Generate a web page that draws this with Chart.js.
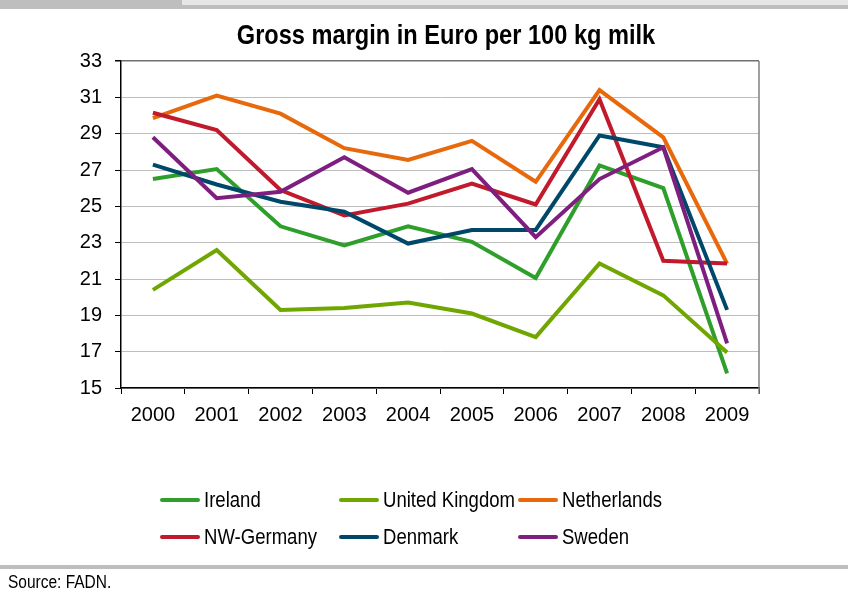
<!DOCTYPE html>
<html>
<head>
<meta charset="utf-8">
<script src="https://cdn.jsdelivr.net/npm/chart.js@4.4.1/dist/chart.umd.min.js"></script>
<style>
    body { margin: 0; background: #fff; font-family: "Liberation Sans", Arial, sans-serif; }
    #wrap { position: relative; width: 848px; height: 595px; overflow: hidden; }
    #topbar { position: absolute; left: 0; top: 0; width: 848px; height: 9px; background: #bebebe; }
    #topbar .light { position: absolute; left: 182px; top: 0; right: 0; height: 5px; background: #e6e6e6; }
    #myChart { position: absolute; left: 0; top: 0; }
    #title { position: absolute; left: 446px; top: 21px; font-size: 28px; line-height: 28px; font-weight: bold; white-space: nowrap; transform: translateX(-50%) scaleX(0.843); color: #000; }
    #legend { position: absolute; left: 160px; top: 486px; display: grid; grid-template-columns: 179px 179px 179px; row-gap: 9px; }
    .item { display: flex; align-items: center; height: 28px; font-size: 22px; color: #000; white-space: nowrap; }
    .item .ln { flex: none; width: 40px; height: 4px; border-radius: 2px; margin-right: 4px; }
    .item .tx { display: inline-block; transform: scaleX(0.843); transform-origin: left center; }
    #srcbar { position: absolute; left: 0; top: 565px; width: 848px; height: 4px; background: #bebebe; }
    #source { position: absolute; left: 8px; top: 572px; font-size: 18px; color: #000; transform: scaleX(0.86); transform-origin: left center; }
</style>
</head>
<body>
<div id="wrap">
    <div id="topbar"><div class="light"></div></div>
    <canvas id="myChart" width="848" height="595"></canvas>
    <div id="title">Gross margin in Euro per 100 kg milk</div>
    <div id="legend"></div>
    <div id="srcbar"></div>
    <div id="source">Source: FADN.</div>
</div>
<script>
const years = ['2000', '2001', '2002', '2003', '2004', '2005', '2006', '2007', '2008', '2009'];

const ireland = [26.5, 27.05, 23.9, 22.85, 23.9, 23.05, 21.05, 27.25, 26.0, 15.8];
const unitedKingdom = [20.4, 22.6, 19.3, 19.4, 19.7, 19.1, 17.8, 21.85, 20.1, 16.95];
const netherlands = [29.85, 31.1, 30.1, 28.2, 27.55, 28.6, 26.35, 31.4, 28.8, 21.85];
const nwGermany = [30.15, 29.2, 25.9, 24.5, 25.15, 26.25, 25.1, 30.9, 22.0, 21.85];
const denmark = [27.3, 26.2, 25.25, 24.7, 22.95, 23.7, 23.7, 28.9, 28.25, 19.3];
const sweden = [28.8, 25.45, 25.8, 27.7, 25.75, 27.05, 23.3, 26.5, 28.25, 17.45];

const seriesNames = ['Ireland', 'United Kingdom', 'Netherlands', 'NW-Germany', 'Denmark', 'Sweden'];
const seriesColors = ['#2e9f2a', '#6fa600', '#e8690b', '#c01a2c', '#00486a', '#7e1f80'];
const seriesData = [ireland, unitedKingdom, netherlands, nwGermany, denmark, sweden];

const fontFamily = '"Liberation Sans", Arial, sans-serif';

// right border of the plot
const rightBorder = {
    id: 'rightBorder',
    afterDraw(chart) {
        const a = chart.chartArea;
        const c = chart.ctx;
        c.save();
        c.strokeStyle = '#808080';
        c.lineWidth = 1.5;
        c.beginPath();
        c.moveTo(a.right, a.top);
        c.lineTo(a.right, a.bottom + 6);
        c.stroke();
        c.restore();
    }
};

let datasets = [];
for (let i = 0; i < seriesNames.length; i++) {
    datasets.push({
        label: seriesNames[i],
        data: seriesData[i],
        borderColor: seriesColors[i],
        backgroundColor: seriesColors[i],
        borderWidth: 4,
        pointRadius: 0,
        tension: 0,
        fill: false,
        order: seriesNames.length - i
    });
}

let ctx = document.getElementById('myChart').getContext('2d');
const myChart = new Chart(ctx, {
    type: 'line',
    data: {
        labels: years,
        datasets: datasets
    },
    options: {
        responsive: false,
        animation: false,
        layout: {
            padding: { left: 61, right: 89, top: 61, bottom: 167 }
        },
        plugins: {
            legend: { display: false },
            tooltip: { enabled: false },
            title: { display: false }
        },
        scales: {
            x: {
                offset: true,
                grid: {
                    offset: true,
                    drawOnChartArea: false,
                    tickLength: 6,
                    tickColor: '#000'
                },
                border: { color: '#000', width: 1.5 },
                ticks: {
                    color: '#000',
                    padding: 9,
                    font: { family: fontFamily, size: 20 }
                },
                afterFit: function(s) { s.height = 40; }
            },
            y: {
                min: 15,
                max: 33,
                ticks: {
                    stepSize: 2,
                    color: '#000',
                    padding: 13,
                    font: { family: fontFamily, size: 20 }
                },
                grid: {
                    color: c => c.tick && c.tick.value === 33 ? '#707070' : '#bdbdbd',
                    lineWidth: c => c.tick && c.tick.value === 33 ? 1.5 : 1,
                    tickLength: 6,
                    tickColor: '#000'
                },
                border: { color: '#000', width: 1.5 },
                afterFit: function(s) { s.width = 60; }
            }
        }
    },
    plugins: [rightBorder]
});

// legend in three columns
let legend = document.getElementById('legend');
for (let i = 0; i < seriesNames.length; i++) {
    legend.innerHTML += '<div class="item"><span class="ln" style="background:' + seriesColors[i] + '"></span><span class="tx">' + seriesNames[i] + '</span></div>';
}
</script>
</body>
</html>
